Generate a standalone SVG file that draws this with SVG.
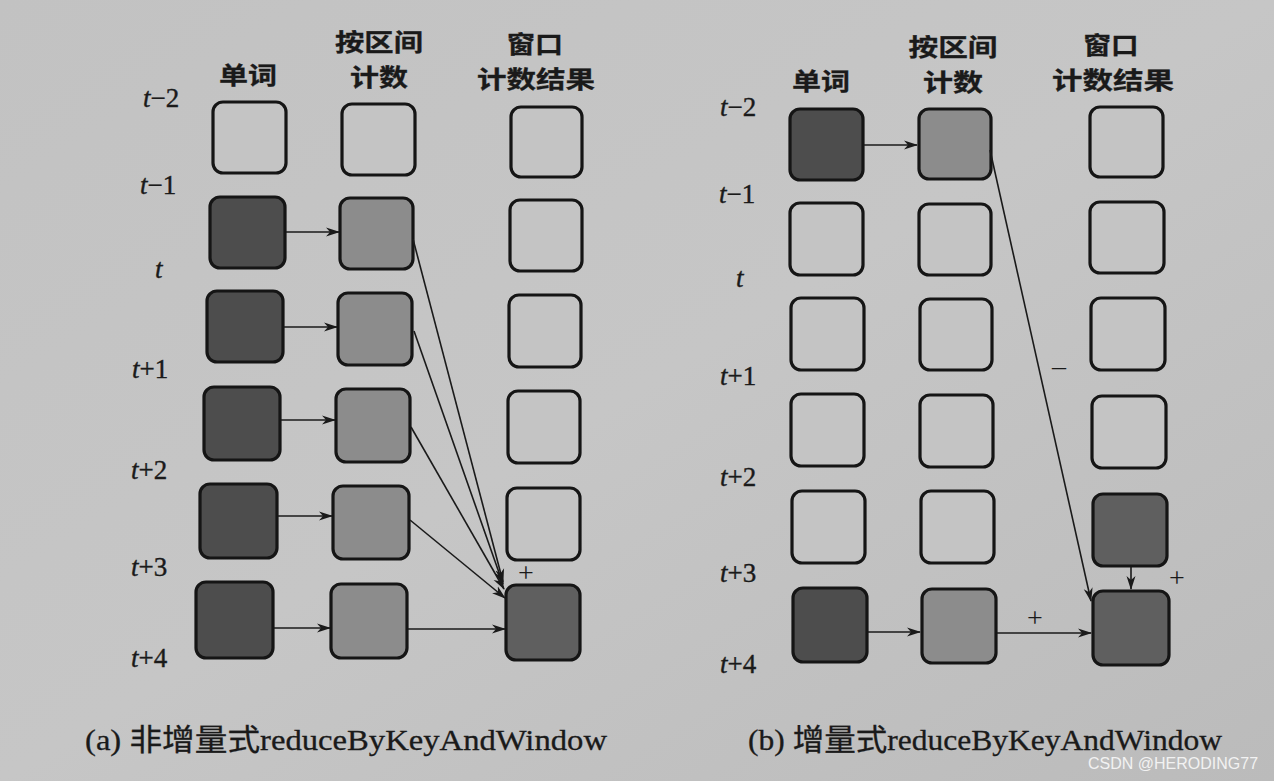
<svg xmlns="http://www.w3.org/2000/svg" width="1274" height="781" viewBox="0 0 1274 781">
<defs>
<style>
.bx{stroke:#151515;stroke-width:3.2}
.e{fill:#c4c4c4}
.d{fill:#4d4d4d}
.m{fill:#8c8c8c}
.r{fill:#5f5f5f}
.ln{stroke:#1a1a1a;stroke-width:1.6;fill:none}
.hd{font-family:"Noto Sans CJK SC",sans-serif;font-weight:700;font-size:24px;fill:#1a1a1a;text-anchor:middle;stroke:#1a1a1a;stroke-width:0.3}
.tl{font-family:"Liberation Serif",serif;font-size:27px;fill:#1a1a1a;stroke:#1a1a1a;stroke-width:0.4}
.pm{font-family:"Liberation Serif",serif;font-size:28px;fill:#1a1a1a;text-anchor:middle}
.cap{font-family:"Liberation Serif","Noto Sans CJK SC",serif;font-size:30px;fill:#1a1a1a;stroke:#1a1a1a;stroke-width:0.3}
</style>
<linearGradient id="bg" x1="0" y1="0" x2="1" y2="1">
<stop offset="0" stop-color="#c2c2c2"/>
<stop offset="0.5" stop-color="#c6c6c6"/>
<stop offset="1" stop-color="#bbbbbb"/>
</linearGradient>
<marker id="ah" viewBox="0 0 14 10" refX="13" refY="5" markerWidth="14" markerHeight="10" markerUnits="userSpaceOnUse" orient="auto">
<path d="M0,0.5 L14,5 L0,9.5 L4,5 Z" fill="#1a1a1a"/>
</marker>
</defs>
<rect width="1274" height="781" fill="url(#bg)"/>

<!-- Panel (a) headers -->
<g id="a-headers">
<text class="hd" x="248" y="84" textLength="58" lengthAdjust="spacingAndGlyphs">单词</text>
<text class="hd" x="379" y="51" textLength="88" lengthAdjust="spacingAndGlyphs">按区间</text>
<text class="hd" x="379" y="86" textLength="58" lengthAdjust="spacingAndGlyphs">计数</text>
<text class="hd" x="535" y="53" textLength="56" lengthAdjust="spacingAndGlyphs">窗口</text>
<text class="hd" x="536" y="88" textLength="118" lengthAdjust="spacingAndGlyphs">计数结果</text>
</g>
<g id="a-timelabels">
<text class="tl" x="143" y="107"><tspan font-style="italic">t</tspan>−2</text>
<text class="tl" x="140" y="194"><tspan font-style="italic">t</tspan>−1</text>
<text class="tl" x="155" y="278"><tspan font-style="italic">t</tspan></text>
<text class="tl" x="132" y="378"><tspan font-style="italic">t</tspan>+1</text>
<text class="tl" x="131" y="479"><tspan font-style="italic">t</tspan>+2</text>
<text class="tl" x="131" y="576"><tspan font-style="italic">t</tspan>+3</text>
<text class="tl" x="131" y="667"><tspan font-style="italic">t</tspan>+4</text>
</g>

<!-- Panel (a) nodes -->
<g id="a-c1-r0"><rect class="bx e" x="213" y="102" width="73" height="71" rx="10"/></g>
<g id="a-c2-r0"><rect class="bx e" x="342" y="104" width="73" height="71" rx="10"/></g>
<g id="a-c3-r0"><rect class="bx e" x="511" y="107" width="71" height="70" rx="10"/></g>
<g id="a-c1-r1"><rect class="bx d" x="210" y="197" width="75" height="71" rx="10"/></g>
<g id="a-c2-r1"><rect class="bx m" x="340" y="198" width="73" height="71" rx="10"/></g>
<g id="a-c3-r1"><rect class="bx e" x="510" y="200" width="72" height="71" rx="10"/></g>
<g id="a-c1-r2"><rect class="bx d" x="207" y="291" width="76" height="71" rx="10"/></g>
<g id="a-c2-r2"><rect class="bx m" x="338" y="293" width="74" height="72" rx="10"/></g>
<g id="a-c3-r2"><rect class="bx e" x="509" y="295" width="72" height="72" rx="10"/></g>
<g id="a-c1-r3"><rect class="bx d" x="204" y="387" width="76" height="73" rx="10"/></g>
<g id="a-c2-r3"><rect class="bx m" x="336" y="389" width="74" height="73" rx="10"/></g>
<g id="a-c3-r3"><rect class="bx e" x="508" y="391" width="72" height="72" rx="10"/></g>
<g id="a-c1-r4"><rect class="bx d" x="200" y="484" width="77" height="74" rx="10"/></g>
<g id="a-c2-r4"><rect class="bx m" x="333" y="486" width="76" height="73" rx="10"/></g>
<g id="a-c3-r4"><rect class="bx e" x="507" y="488" width="73" height="72" rx="10"/></g>
<g id="a-c1-r5"><rect class="bx d" x="196" y="582" width="77" height="76" rx="10"/></g>
<g id="a-c2-r5"><rect class="bx m" x="331" y="584" width="76" height="74" rx="10"/></g>
<g id="a-c3-r5"><rect class="bx r" x="506" y="585" width="74" height="75" rx="10"/></g>

<!-- Panel (a) connectors -->
<g id="a-connectors">
<line class="ln" x1="286" y1="232" x2="339" y2="232" marker-end="url(#ah)"/>
<line class="ln" x1="284" y1="327" x2="337" y2="327" marker-end="url(#ah)"/>
<line class="ln" x1="281" y1="420" x2="335" y2="420" marker-end="url(#ah)"/>
<line class="ln" x1="278" y1="516" x2="332" y2="516" marker-end="url(#ah)"/>
<line class="ln" x1="274" y1="628" x2="330" y2="628" marker-end="url(#ah)"/>
<line class="ln" x1="408" y1="629" x2="505" y2="629" marker-end="url(#ah)"/>
<line class="ln" x1="413" y1="239" x2="503" y2="582" marker-end="url(#ah)"/>
<line class="ln" x1="414" y1="331" x2="503" y2="584" marker-end="url(#ah)"/>
<line class="ln" x1="411" y1="427" x2="504" y2="589" marker-end="url(#ah)"/>
<line class="ln" x1="410" y1="520" x2="505" y2="598" marker-end="url(#ah)"/>
</g>
<text class="pm" x="526" y="582">+</text>

<!-- Panel (b) headers -->
<g id="b-headers">
<text class="hd" x="821" y="90" textLength="58" lengthAdjust="spacingAndGlyphs">单词</text>
<text class="hd" x="953" y="56" textLength="89" lengthAdjust="spacingAndGlyphs">按区间</text>
<text class="hd" x="953" y="91" textLength="60" lengthAdjust="spacingAndGlyphs">计数</text>
<text class="hd" x="1111" y="54" textLength="55" lengthAdjust="spacingAndGlyphs">窗口</text>
<text class="hd" x="1113" y="89" textLength="122" lengthAdjust="spacingAndGlyphs">计数结果</text>
</g>
<g id="b-timelabels">
<text class="tl" x="720" y="116"><tspan font-style="italic">t</tspan>−2</text>
<text class="tl" x="719" y="203"><tspan font-style="italic">t</tspan>−1</text>
<text class="tl" x="736" y="287"><tspan font-style="italic">t</tspan></text>
<text class="tl" x="720" y="385"><tspan font-style="italic">t</tspan>+1</text>
<text class="tl" x="720" y="486"><tspan font-style="italic">t</tspan>+2</text>
<text class="tl" x="720" y="582"><tspan font-style="italic">t</tspan>+3</text>
<text class="tl" x="720" y="673"><tspan font-style="italic">t</tspan>+4</text>
</g>

<!-- Panel (b) nodes -->
<g id="b-c1-r0"><rect class="bx d" x="790" y="109" width="73" height="71" rx="10"/></g>
<g id="b-c2-r0"><rect class="bx m" x="919" y="109" width="72" height="70" rx="10"/></g>
<g id="b-c3-r0"><rect class="bx e" x="1090" y="107" width="73" height="70" rx="10"/></g>
<g id="b-c1-r1"><rect class="bx e" x="790" y="203" width="73" height="72" rx="10"/></g>
<g id="b-c2-r1"><rect class="bx e" x="919" y="204" width="72" height="71" rx="10"/></g>
<g id="b-c3-r1"><rect class="bx e" x="1090" y="202" width="74" height="71" rx="10"/></g>
<g id="b-c1-r2"><rect class="bx e" x="791" y="298" width="73" height="72" rx="10"/></g>
<g id="b-c2-r2"><rect class="bx e" x="920" y="299" width="72" height="71" rx="10"/></g>
<g id="b-c3-r2"><rect class="bx e" x="1091" y="298" width="74" height="72" rx="10"/></g>
<g id="b-c1-r3"><rect class="bx e" x="791" y="394" width="73" height="72" rx="10"/></g>
<g id="b-c2-r3"><rect class="bx e" x="920" y="395" width="73" height="72" rx="10"/></g>
<g id="b-c3-r3"><rect class="bx e" x="1092" y="396" width="74" height="72" rx="10"/></g>
<g id="b-c1-r4"><rect class="bx e" x="792" y="491" width="73" height="72" rx="10"/></g>
<g id="b-c2-r4"><rect class="bx e" x="921" y="491" width="73" height="72" rx="10"/></g>
<g id="b-c3-r4"><rect class="bx r" x="1093" y="494" width="74" height="72" rx="10"/></g>
<g id="b-c1-r5"><rect class="bx d" x="793" y="588" width="74" height="74" rx="10"/></g>
<g id="b-c2-r5"><rect class="bx m" x="922" y="589" width="74" height="74" rx="10"/></g>
<g id="b-c3-r5"><rect class="bx r" x="1093" y="591" width="76" height="74" rx="10"/></g>

<!-- Panel (b) connectors -->
<g id="b-connectors">
<line class="ln" x1="864" y1="145" x2="917" y2="145" marker-end="url(#ah)"/>
<line class="ln" x1="990" y1="150" x2="1091" y2="601" marker-end="url(#ah)"/>
<line class="ln" x1="868" y1="632" x2="920" y2="632" marker-end="url(#ah)"/>
<line class="ln" x1="997" y1="633" x2="1091" y2="633" marker-end="url(#ah)"/>
<line class="ln" x1="1131" y1="567" x2="1131" y2="589" marker-end="url(#ah)"/>
</g>
<text class="pm" x="1059" y="375">–</text>
<text class="pm" x="1035" y="627">+</text>
<text class="pm" x="1177" y="587">+</text>

<!-- Captions -->
<text class="cap" x="85" y="750" textLength="522" lengthAdjust="spacingAndGlyphs">(a) 非增量式reduceByKeyAndWindow</text>
<text class="cap" x="748" y="750" textLength="474" lengthAdjust="spacingAndGlyphs">(b) 增量式reduceByKeyAndWindow</text>
<text x="1088" y="769" font-family="Liberation Sans, sans-serif" font-size="16" fill="#f2f2f2">CSDN @HERODING77</text>
</svg>
